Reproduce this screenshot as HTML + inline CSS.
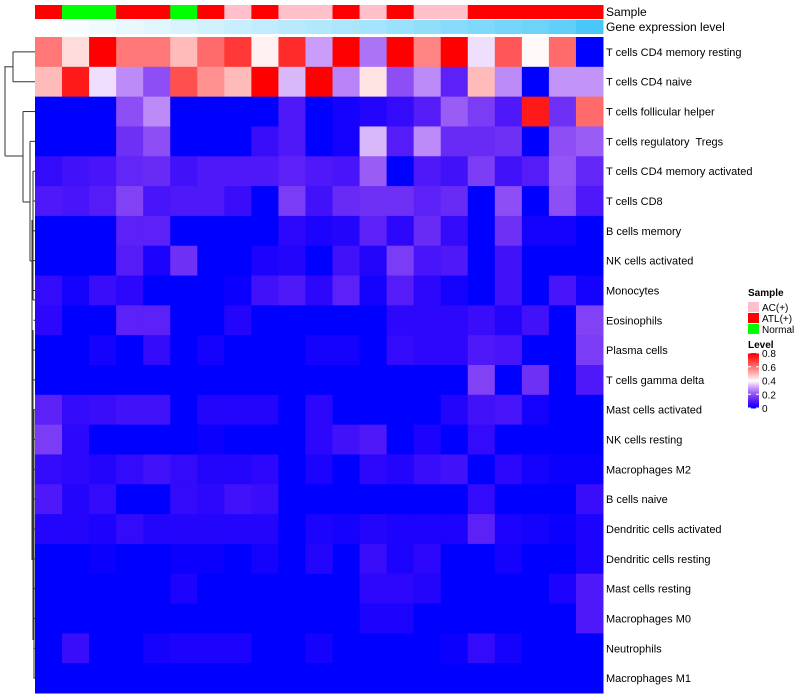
<!DOCTYPE html>
<html><head><meta charset="utf-8"><style>
body{margin:0;background:#fff;}
svg{display:block;font-family:"Liberation Sans",sans-serif;}
#labels text{white-space:pre;}
</style></head><body>
<svg id="chart" width="800" height="700" xmlns="http://www.w3.org/2000/svg">
<g id="dendro" stroke="#333" stroke-width="1" fill="none"></g>
<g id="cells"></g>
<g id="ann"></g>
<g id="labels" font-size="11" fill="#000"></g>
<text x="606" y="16" font-size="12">Sample</text>
<text x="606" y="31" font-size="12">Gene expression level</text>
<g id="legend" font-size="10"></g>
</svg>
<script>
const rowNames=["T cells CD4 memory resting","T cells CD4 naive","T cells follicular helper","T cells regulatory  Tregs","T cells CD4 memory activated","T cells CD8","B cells memory","NK cells activated","Monocytes","Eosinophils","Plasma cells","T cells gamma delta","Mast cells activated","NK cells resting","Macrophages M2","B cells naive","Dendritic cells activated","Dendritic cells resting","Mast cells resting","Macrophages M0","Neutrophils","Macrophages M1"];
const sampleGroups=["ATL(+)","Normal","Normal","ATL(+)","ATL(+)","Normal","ATL(+)","AC(+)","ATL(+)","AC(+)","AC(+)","ATL(+)","AC(+)","ATL(+)","AC(+)","AC(+)","ATL(+)","ATL(+)","ATL(+)","ATL(+)","ATL(+)"];
const geneLevel=[0,0.05,0.08,0.12,0.16,0.2,0.25,0.3,0.34,0.38,0.42,0.46,0.5,0.55,0.6,0.65,0.7,0.75,0.8,0.87,1];
const v0=[0.6,0.45,0.8,0.6,0.6,0.5,0.62,0.7,0.42,0.72,0.3,0.8,0.25,0.8,0.58,0.8,0.37,0.65,0.41,0.62,0];
const v1=[0.5,0.75,0.37,0.28,0.2,0.66,0.56,0.5,0.8,0.33,0.8,0.27,0.44,0.2,0.28,0.12,0.5,0.28,0,0.29,0.29];
const v2=[0,0,0,0.2,0.28,0,0,0,0,0.1,0,0.02,0.04,0.06,0.11,0.22,0.17,0.1,0.75,0.15,0.62];
const v3=[0,0,0,0.15,0.2,0,0,0,0.07,0.1,0,0.02,0.33,0.11,0.28,0.14,0.14,0.15,0,0.2,0.22];
const v4=[0.06,0.08,0.09,0.13,0.14,0.08,0.1,0.1,0.1,0.12,0.1,0.09,0.22,0,0.1,0.08,0.17,0.08,0.11,0.21,0.13];
const v5=[0.1,0.09,0.11,0.18,0.09,0.1,0.1,0.07,0,0.17,0.08,0.14,0.15,0.15,0.12,0.14,0,0.2,0,0.2,0.1];
const v6=[0,0,0,0.12,0.12,0,0,0,0,0.05,0.03,0.04,0.12,0.05,0.14,0.06,0,0.15,0.02,0.02,0];
const v7=[0,0,0,0.11,0.03,0.15,0,0,0.03,0.04,0,0.08,0.04,0.17,0.09,0.1,0,0.08,0,0,0];
const v8=[0.06,0.02,0.07,0.05,0,0,0,0.01,0.08,0.1,0.05,0.12,0.02,0.11,0.05,0.02,0,0.08,0,0.09,0.02];
const v9=[0.05,0,0,0.12,0.12,0,0,0.04,0,0,0,0,0,0.05,0.05,0.05,0.07,0.04,0.08,0,0.18];
const v10=[0,0,0.02,0,0.06,0,0.02,0,0,0,0.02,0.02,0,0.06,0.05,0.05,0.1,0.09,0,0,0.17];
const v11=[0,0,0,0,0,0,0,0,0,0,0,0,0,0,0,0,0.18,0,0.15,0,0.1];
const v12=[0.12,0.06,0.07,0.08,0.08,0,0.04,0.04,0.04,0,0.05,0,0,0,0,0.04,0.08,0.09,0.02,0,0];
const v13=[0.17,0.05,0,0,0,0,0.01,0,0,0,0.05,0.08,0.1,0,0.03,0,0.06,0,0,0,0];
const v14=[0.06,0.05,0.04,0.06,0.08,0.06,0.04,0.04,0.05,0,0.03,0,0.05,0.04,0.07,0.08,0,0.05,0.02,0.01,0.01];
const v15=[0.1,0.04,0.06,0,0,0.06,0.05,0.08,0.07,0,0,0,0,0,0,0,0.06,0,0,0,0.07];
const v16=[0.04,0.04,0.03,0.06,0.04,0.04,0.04,0.04,0.04,0,0.03,0.02,0.04,0.03,0.03,0.03,0.12,0.03,0.02,0.01,0.03];
const v17=[0,0,0.01,0,0,0.01,0.01,0,0.02,0,0.04,0,0.07,0.03,0.05,0,0,0.02,0,0,0.03];
const v18=[0,0,0,0,0,0.03,0,0,0,0,0,0,0.05,0.05,0.04,0,0,0,0,0.03,0.1];
const v19=[0,0,0,0,0,0,0,0,0,0,0,0,0.03,0.03,0,0,0,0,0,0,0.1];
const v20=[0,0.07,0,0,0.02,0.03,0.03,0.03,0,0,0.02,0,0,0,0,0.01,0.06,0.02,0,0,0];
const v21=[0,0,0,0,0,0,0,0,0,0,0,0,0,0,0,0,0,0,0,0,0];
const values=[v0,v1,v2,v3,v4,v5,v6,v7,v8,v9,v10,v11,v12,v13,v14,v15,v16,v17,v18,v19,v20,v21];
const legendTicks=[0,0.2,0.4,0.6,0.8];
const sampleCats=["AC(+)","ATL(+)","Normal"];
const sampleColors={"AC(+)":"#FFC0CB","ATL(+)":"#FF0000","Normal":"#00FF00"};

const NS="http://www.w3.org/2000/svg";
const X0=35,X1=603,Y0=37,Y1=693;
const nC=v0.length,nR=values.length;
const cw=(X1-X0)/nC,rh=(Y1-Y0)/nR;
const xs=c=>X0+c*cw, ys=r=>Y0+r*rh;
function col(v){v=Math.max(0,Math.min(0.8,v));let r,g,b;
 if(v<=0.4){const t=v/0.4;r=255*Math.pow(t,0.85);g=255*Math.pow(t,1.7);b=255-10*Math.sin(Math.PI*t);}
 else{const t=(v-0.4)/0.4;r=255;g=255*Math.pow(1-t,1.1);b=255*Math.pow(1-t,1.1);}
 return `rgb(${Math.round(r)},${Math.round(g)},${Math.round(b)})`;}
function geneCol(t){const a=[255,255,255],b=[72,200,248];return `rgb(${a.map((x,i)=>Math.round(x+(b[i]-x)*t)).join(',')})`;}
function mk(tag,attrs,parent){const e=document.createElementNS(NS,tag);for(const k in attrs)e.setAttribute(k,attrs[k]);parent.appendChild(e);return e;}
const cells=document.getElementById('cells');
values.forEach((row,r)=>row.forEach((v,c)=>{
 const e=mk('rect',{x:xs(c),y:ys(r),width:cw+0.5,height:rh+0.5,fill:col(v)},cells);
 
 
}));
const ann=document.getElementById('ann');
sampleGroups.forEach((s,c)=>{
 const e=mk('rect',{x:xs(c),y:5,width:cw+0.5,height:14,fill:sampleColors[s]},ann);
 
 
});
geneLevel.forEach((g,c)=>{
 const e=mk('rect',{x:xs(c),y:20,width:cw+0.5,height:14,fill:geneCol(g)},ann);
 
 
});
const labels=document.getElementById('labels');
rowNames.forEach((n,r)=>{
 const t=mk('text',{x:606,y:ys(r)+rh/2+4},labels);t.textContent=n;
 
 
});
const d=document.getElementById('dendro');
const cy=r=>ys(r)+rh/2;
function seg(x1,y1,x2,y2){mk('line',{x1,y1,x2,y2},d);}
seg(13,cy(0),35,cy(0));seg(13,cy(1),35,cy(1));seg(13,cy(0),13,cy(1));
seg(5,(cy(0)+cy(1))/2,13,(cy(0)+cy(1))/2);
seg(5,66,5,156);seg(5,156,23,156);
seg(23,cy(2),35,cy(2));seg(23,cy(2),23,202);seg(23,202,30,202);
seg(30,cy(3),35,cy(3));seg(30,cy(3),30,261);seg(30,261,32,261);
seg(32,220,32,560);seg(33,cy(4),33,300);seg(33,300,35,300);
for(let r=4;r<nR;r++)seg(33.5,cy(r),35,cy(r));
seg(33,330,33,640);seg(34,cy(12),34,cy(21));
const L=document.getElementById('legend');
let t=mk('text',{x:748,y:296,'font-weight':'bold'},L);t.textContent='Sample';
sampleCats.forEach((s,i)=>{
 const r=mk('rect',{x:748,y:302+i*11,width:11,height:10,fill:sampleColors[s]},L);
 
 
 const tx=mk('text',{x:762,y:311+i*11},L);tx.textContent=s;
 
 
});
t=mk('text',{x:748,y:348,'font-weight':'bold'},L);t.textContent='Level';
const LY0=408,LY1=353;
const ly=v=>LY0-(v/0.8)*(LY0-LY1);
for(let i=0;i<40;i++){const v=i/40*0.8;mk('rect',{x:748,y:ly(v+0.02),width:11,height:(LY0-LY1)/40+0.5,fill:col(v+0.01)},L);}
legendTicks.forEach(v=>{
 mk('line',{x1:748,x2:751,y1:ly(v),y2:ly(v),stroke:'#fff'},L);
 mk('line',{x1:756,x2:759,y1:ly(v),y2:ly(v),stroke:'#fff'},L);
 const tx=mk('text',{x:762,y:ly(v)+4},L);tx.textContent=String(v);
 
 
});
</script>
</body></html>
